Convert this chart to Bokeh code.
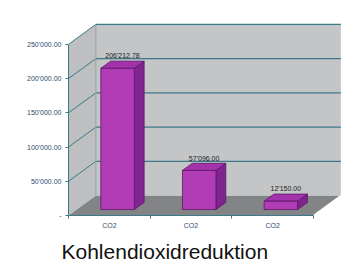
from bokeh.plotting import figure
from bokeh.models import Range1d, FixedTicker, Title
from bokeh.embed import file_html
from bokeh.resources import INLINE

# ---- data ----
categories = ["CO2", "CO2", "CO2"]
values = [206212.78, 57096.00, 12150.00]
value_labels = ["206'212.78", "57'096.00", "12'150.00"]
y_ticks = [0, 50000, 100000, 150000, 200000, 250000]
y_tick_labels = ["-", "50'000.00", "100'000.00", "150'000.00", "200'000.00", "250'000.00"]
title_text = "Kohlendioxidreduktion"

# ---- style / projection constants ----
DX = 0.335      # depth offset in category units
DY = 29000      # depth offset in value units
Y_MAX = 250000
BAR_W = 0.41
F0, F1 = 0.30, 0.66   # bar front/back depth fractions
WALL = "#c3c5c7"
SIDE_WALL = "#bdbfc1"
FLOOR = "#838486"
GRID = "#3c7888"
BAR_FRONT = "#b23cb6"
BAR_SIDE = "#80258f"
BAR_TOP = "#a332ab"
BAR_EDGE = "#5a1668"

n = len(values)
p = figure(width=341, height=268, output_backend="svg", toolbar_location=None,
           x_range=Range1d(0, 3.343), y_range=Range1d(0, 302300),
           min_border_left=68, min_border_right=0, min_border_top=8, min_border_bottom=52,
           background_fill_color="white", border_fill_color="white")
p.outline_line_color = None
p.xgrid.visible = False
p.ygrid.visible = False

# left wall
p.patch([0, 0, DX, DX], [0, Y_MAX, Y_MAX + DY, DY], fill_color=SIDE_WALL, line_color=None)
# back wall
p.patch([DX, n + DX, n + DX, DX], [DY, DY, Y_MAX + DY, Y_MAX + DY], fill_color=WALL, line_color=None)
# floor
p.patch([0, n, n + DX, DX], [0, 0, DY, DY], fill_color=FLOOR, line_color=None)
p.line([n, n + DX], [0, DY], line_color="white", line_width=1.5)

# gridlines on back wall and left wall
for v in y_ticks[1:]:
    p.line([DX, n + DX], [v + DY, v + DY], line_color=GRID, line_width=1.2)
    p.line([0, DX], [v, v + DY], line_color=GRID, line_width=1.0)
p.line([DX, DX], [DY, Y_MAX + DY], line_color="#9a9c9e", line_width=1)

# bars
for i, v in enumerate(values):
    xl = i + 0.5 - BAR_W / 2 + F0 * DX
    xr = i + 0.5 + BAR_W / 2 + F0 * DX
    y0 = F0 * DY
    ddx = (F1 - F0) * DX
    ddy = (F1 - F0) * DY
    # side face
    p.patch([xr, xr + ddx, xr + ddx, xr], [y0, y0 + ddy, v + y0 + ddy, v + y0],
            fill_color=BAR_SIDE, line_color=BAR_EDGE, line_width=0.8)
    # top face
    p.patch([xl, xr, xr + ddx, xl + ddx], [v + y0, v + y0, v + y0 + ddy, v + y0 + ddy],
            fill_color=BAR_TOP, line_color=BAR_EDGE, line_width=0.8)
    # front face
    p.patch([xl, xr, xr, xl], [y0, y0, v + y0, v + y0],
            fill_color=BAR_FRONT, line_color=BAR_EDGE, line_width=0.8)

# value labels
lab_x = [i + 0.5 + (F0 + F1) / 2 * DX for i in range(n)]
lab_y = [v + F1 * DY + 2500 for v in values]
p.text(lab_x, lab_y, text=value_labels, text_align="center", text_baseline="bottom",
       text_font_size="7px", text_color="#222222")

# axes
p.yaxis.ticker = FixedTicker(ticks=y_ticks)
p.yaxis.major_label_overrides = {t: s for t, s in zip(y_ticks, y_tick_labels)}
p.yaxis.bounds = (0, Y_MAX)
p.yaxis.axis_line_color = GRID
p.yaxis.major_tick_line_color = GRID
p.yaxis.major_tick_out = 3
p.yaxis.major_tick_in = 0
p.yaxis.minor_tick_line_color = None
p.yaxis.major_label_text_font_size = "7px"
p.yaxis.major_label_text_color = "#2d4d6d"
p.yaxis.major_label_standoff = 4

centers = [i + 0.5 for i in range(n)]
p.xaxis.ticker = FixedTicker(ticks=centers, minor_ticks=list(range(n + 1)))
p.xaxis.major_label_overrides = {c: s for c, s in zip(centers, categories)}
p.xaxis.bounds = (0, n)
p.xaxis.axis_line_color = GRID
p.xaxis.major_tick_line_color = None
p.xaxis.minor_tick_line_color = GRID
p.xaxis.minor_tick_out = 3
p.xaxis.minor_tick_in = 0
p.xaxis.major_label_text_font_size = "7px"
p.xaxis.major_label_text_color = "#2d4d6d"
p.xaxis.major_label_standoff = 0

t = Title(text=title_text, align="left", offset=-7, text_font="Liberation Sans",
          text_font_size="21px", text_font_style="normal", text_color="#111111", standoff=12)
p.add_layout(t, "below")

open("out.html", "w").write(file_html(p, INLINE))
